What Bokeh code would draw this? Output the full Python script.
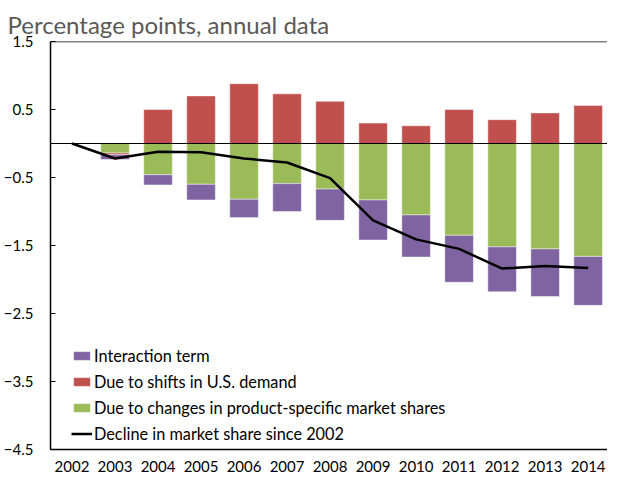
from bokeh.plotting import figure
from bokeh.models import Range1d, FixedTicker, Span, Legend, LegendItem, ColumnDataSource
from bokeh.embed import file_html
from bokeh.resources import INLINE

years = [2002, 2003, 2004, 2005, 2006, 2007, 2008, 2009, 2010, 2011, 2012, 2013, 2014]
market_shares = [0.0, -0.14, -0.46, -0.60, -0.82, -0.59, -0.67, -0.83, -1.05, -1.35, -1.52, -1.55, -1.66]
us_demand = [0.0, -0.025, 0.50, 0.70, 0.88, 0.73, 0.62, 0.30, 0.26, 0.50, 0.35, 0.45, 0.56]
interaction = [0.0, -0.07, -0.15, -0.23, -0.27, -0.41, -0.46, -0.59, -0.62, -0.69, -0.66, -0.70, -0.72]
decline = [0.0, -0.22, -0.12, -0.13, -0.22, -0.28, -0.51, -1.13, -1.41, -1.55, -1.84, -1.80, -1.83]
y_ticks = [1.5, 0.5, -0.5, -1.5, -2.5, -3.5, -4.5]

title_text = "Percentage points, annual data"
labels = {
    "interaction": "Interaction term",
    "demand": "Due to shifts in U.S. demand",
    "shares": "Due to changes in product-specific market shares",
    "decline": "Decline in market share since 2002",
}
colors = {"shares": "#9BBB59", "demand": "#C0504D", "interaction": "#8064A2"}

FONT = "Lato"

# stacked bar extents: negatives stack downward, positives upward
series = [("shares", market_shares), ("demand", us_demand), ("interaction", interaction)]
stacks = {k: {"top": [], "bottom": []} for k, _ in series}
for i in range(len(years)):
    pos, neg = 0.0, 0.0
    for k, vals in series:
        v = vals[i]
        if v >= 0:
            stacks[k]["bottom"].append(pos)
            stacks[k]["top"].append(pos + v)
            pos += v
        else:
            stacks[k]["top"].append(neg)
            stacks[k]["bottom"].append(neg + v)
            neg += v

p = figure(frame_width=557, frame_height=408, output_backend="svg", toolbar_location=None,
           x_range=Range1d(2001.5, 2014.45), y_range=Range1d(-4.5, 1.5),
           min_border_left=45, min_border_right=0, min_border_top=41, min_border_bottom=28)

p.title.text = title_text
p.title.text_font = FONT
p.title.text_font_size = "24px"
p.title.text_font_style = "normal"
p.title.text_color = "#595959"
p.title.align = "left"
p.title.vertical_align = "top"
p.title.offset = -43
p.title.standoff = 2

renderers = {}
for k, _ in series:
    src = ColumnDataSource(dict(x=years, top=stacks[k]["top"], bottom=stacks[k]["bottom"]))
    renderers[k] = p.vbar(x="x", top="top", bottom="bottom", width=0.665, source=src,
                          fill_color=colors[k], line_color="white", line_alpha=0.45, line_width=1)

p.add_layout(Span(location=0, dimension="width", line_color="black", line_width=1.2))
p.add_layout(Span(location=1.5, dimension="width", line_color="black", line_width=1.5))

renderers["decline"] = p.line(years, decline, line_color="black", line_width=2.5)

p.outline_line_color = None
p.xgrid.visible = False
p.ygrid.visible = False
p.background_fill_color = "white"
p.border_fill_color = "white"

yax = p.yaxis[0]
yax.ticker = FixedTicker(ticks=y_ticks)
yax.minor_tick_line_color = None
yax.major_tick_in = 5
yax.major_tick_out = 0
yax.axis_line_color = "black"
yax.axis_line_width = 1.5
yax.major_tick_line_color = "black"
yax.major_tick_line_width = 1.2
yax.major_label_text_font = FONT
yax.major_label_text_font_size = "15px"
yax.major_label_text_color = "black"
yax.major_label_standoff = 17

xax = p.xaxis[0]
xax.ticker = FixedTicker(ticks=years)
xax.minor_tick_line_color = None
xax.major_tick_in = 0
xax.major_tick_out = 0
xax.axis_line_color = "black"
xax.axis_line_width = 1.5
xax.major_label_text_font = FONT
xax.major_label_text_font_size = "15px"
xax.major_label_text_color = "black"
xax.major_label_standoff = 11

legend = Legend(items=[
    LegendItem(label=labels["interaction"], renderers=[renderers["interaction"]]),
    LegendItem(label=labels["demand"], renderers=[renderers["demand"]]),
    LegendItem(label=labels["shares"], renderers=[renderers["shares"]]),
    LegendItem(label=labels["decline"], renderers=[renderers["decline"]]),
], location=(21, 6))
legend.label_text_font = FONT
legend.label_text_font_size = "16.3px"
legend.label_text_color = "black"
legend.glyph_width = 21
legend.glyph_height = 11
legend.label_height = 20
legend.spacing = 6
legend.padding = 0
legend.margin = 0
legend.label_standoff = 2
legend.border_line_color = None
legend.background_fill_alpha = 0
p.add_layout(legend)

open("out.html", "w").write(file_html(p, INLINE))
